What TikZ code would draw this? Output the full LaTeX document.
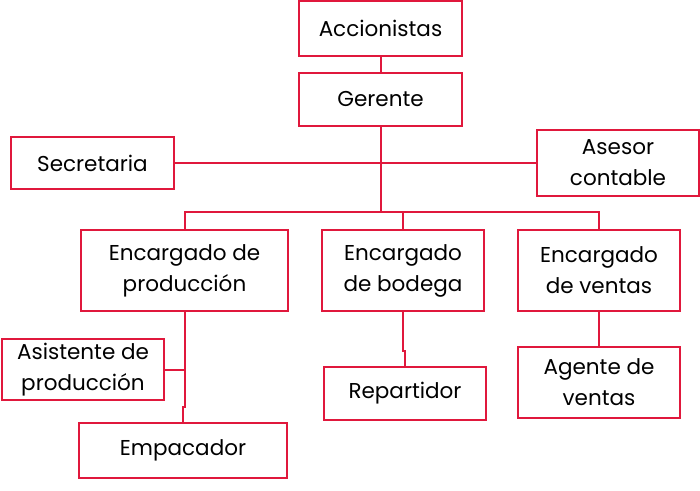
\documentclass[tikz,border=0pt]{standalone}
\usepackage{fontspec}
\setmainfont{Poppins}
\definecolor{orgred}{RGB}{224,24,60}

\begin{document}
\begin{tikzpicture}[x=1pt,y=-1pt,
    box/.style={draw=orgred,line width=2pt,align=center,inner sep=0pt,
        font=\fontsize{21.5}{31}\selectfont},
    link/.style={draw=orgred,line width=2pt}]
    \useasboundingbox (0,0) rectangle (700,490);

    \node[box,minimum width=163pt,minimum height=55pt] (acc) at (380.5,28.5) {Accionistas};
    \node[box,minimum width=163pt,minimum height=53pt] (ger) at (380.5,99) {Gerente};
    \node[box,minimum width=163pt,minimum height=52pt] (sec) at (92.5,163) {Secretaria};
    \node[box,minimum width=162pt,minimum height=66pt] (ase) at (618,163) {Asesor\\contable};

    \node[box,minimum width=207pt,minimum height=81pt] (prod) at (184.5,270.5) {Encargado de\\producción};
    \node[box,minimum width=162pt,minimum height=81pt] (bod) at (403,270.5) {Encargado\\de bodega};
    \node[box,minimum width=162pt,minimum height=81pt] (ven) at (599,270.5) {Encargado\\de ventas};

    \node[box,minimum width=162pt,minimum height=61pt] (asis) at (83,369.5) {Asistente de\\producción};
    \node[box,minimum width=208pt,minimum height=55pt] (emp) at (183,450.5) {Empacador};
    \node[box,minimum width=162pt,minimum height=53pt] (rep) at (405,393.5) {Repartidor};
    \node[box,minimum width=162pt,minimum height=71pt] (age) at (599,382.5) {Agente de\\ventas};

    \coordinate (bus) at (380.5,212);

    \draw[link] (acc) -- (ger);
    \draw[link] (sec) -- (ase);
    \draw[link] (ger) -- (bus);
    \draw[link] (prod.north) |- (bus) -| (ven.north);
    \draw[link] (bod.north) -- (bod.north |- bus);

    \draw[link] (prod.south) -- ++(0,95) -| (emp.north);
    \draw[link] (asis.east) -- (asis.east -| prod.south);
    \draw[link] (bod.south) -- ++(0,39) -| (rep.north);
    \draw[link] (ven) -- (age);
\end{tikzpicture}
\end{document}
